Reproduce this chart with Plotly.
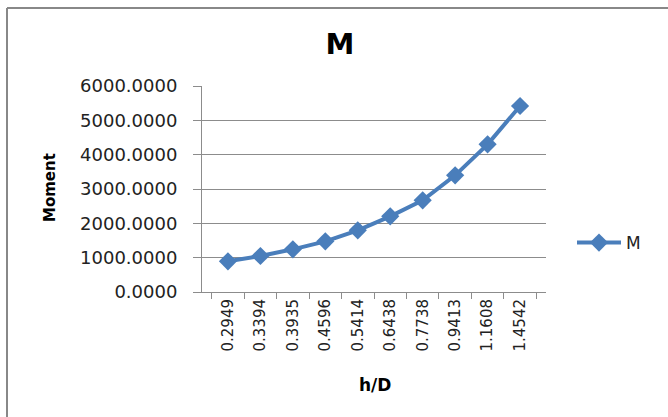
import plotly.graph_objects as go

categories = ["0.2949", "0.3394", "0.3935", "0.4596", "0.5414", "0.6438", "0.7738", "0.9413", "1.1608", "1.4542"]
moment = [893, 1049, 1243, 1476, 1796, 2204, 2670, 3398, 4301, 5417]
y_ticks = [0, 1000, 2000, 3000, 4000, 5000, 6000]
y_tick_labels = [f"{v:.4f}" for v in y_ticks]

FONT = "'DejaVu Sans', sans-serif"
BOLD = "'DejaVu Sans', sans-serif"
BLUE = "#4A7EBB"
GRAY = "#8C8C8C"

fig = go.Figure()
fig.add_trace(go.Scatter(
    x=categories, y=moment, name="M", mode="lines+markers",
    line=dict(color=BLUE, width=4),
    marker=dict(symbol="diamond", size=14, color=BLUE),
))

W, H = 668, 417
L, R, T, B = 202, 122, 86, 125
pw, ph = W - L - R, H - T - B

def px2x(px):
    return (px - L) / pw

def py2y(py):
    return (H - B - py) / ph

fig.update_layout(
    width=W, height=H,
    margin=dict(l=L, r=R, t=T, b=B, autoexpand=False),
    paper_bgcolor="white", plot_bgcolor="white",
    font=dict(family=FONT, color="#222222"),
    title=dict(text="<b>M</b>", x=340 / W, xanchor="center", y=1 - 44 / H, yanchor="middle",
               font=dict(size=29, color="black", family=BOLD)),
    showlegend=True,
    legend=dict(x=px2x(572), y=py2y(243), xanchor="left", yanchor="middle",
                font=dict(size=17, color="#222222", family=FONT), bgcolor="rgba(0,0,0,0)",
                itemwidth=44),
    xaxis=dict(
        type="category", tickson="boundaries", ticks="outside", ticklen=6, tickcolor=GRAY,
        showline=True, linecolor=GRAY, linewidth=1, showgrid=False, automargin=False,
        tickangle=-90, tickfont=dict(size=15, family=FONT, color="#222222"),
    ),
    yaxis=dict(
        range=[0, 6000], tickvals=y_ticks, ticktext=y_tick_labels,
        ticks="outside", ticklen=8, tickcolor=GRAY, automargin=False,
        showline=True, linecolor=GRAY, linewidth=1,
        showgrid=True, gridcolor=GRAY, gridwidth=1, zeroline=False,
        tickfont=dict(size=18, family=FONT, color="#222222"),
        ticklabelstandoff=12,
    ),
    annotations=[
        dict(text="<b>Moment</b>", xref="paper", yref="paper", x=px2x(50), y=py2y(188),
             xanchor="center", yanchor="middle", textangle=-90, showarrow=False,
             font=dict(size=15, family=BOLD, color="black")),
        dict(text="<b>h/D</b>", xref="paper", yref="paper", x=px2x(375), y=py2y(385),
             xanchor="center", yanchor="middle", showarrow=False,
             font=dict(size=17, family=BOLD, color="black")),
    ],
)

# outer chart border (frame cropped at the right and bottom)
fig.add_shape(type="line", xref="paper", yref="paper",
              x0=px2x(7), y0=py2y(8), x1=px2x(700), y1=py2y(8),
              line=dict(color="#888888", width=2))
fig.add_shape(type="line", xref="paper", yref="paper",
              x0=px2x(7), y0=py2y(8), x1=px2x(7), y1=py2y(440),
              line=dict(color="#888888", width=2))

fig.write_html("out.html", config={"displayModeBar": False},
               post_script="document.body.style.margin='0';document.body.style.overflow='hidden';")
